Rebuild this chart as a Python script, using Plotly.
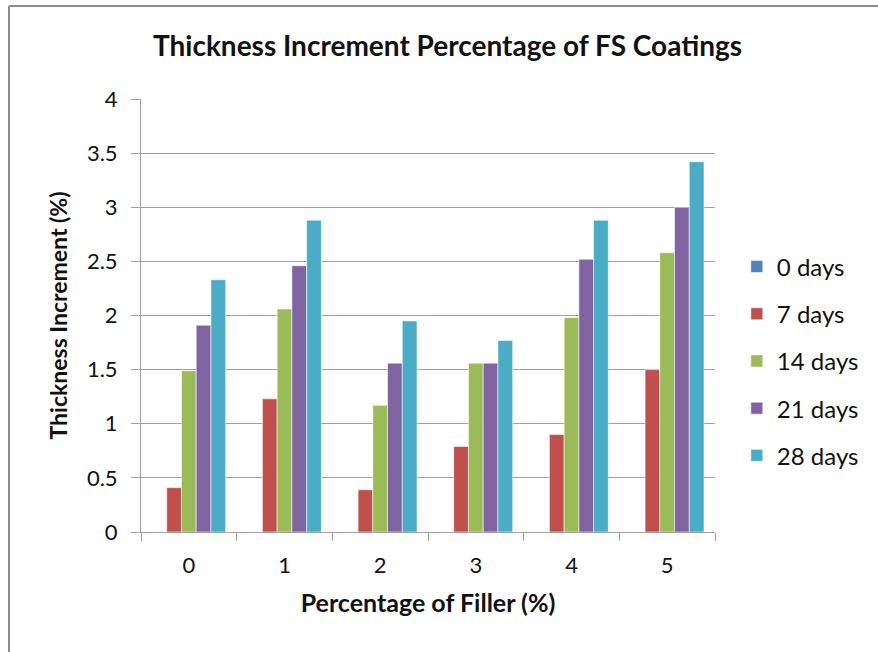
import plotly.graph_objects as go

categories = ["0", "1", "2", "3", "4", "5"]
series_names = ["0 days", "7 days", "14 days", "21 days", "28 days"]
days_0 = [0, 0, 0, 0, 0, 0]
days_7 = [0.41, 1.23, 0.39, 0.79, 0.90, 1.50]
days_14 = [1.49, 2.06, 1.17, 1.56, 1.98, 2.58]
days_21 = [1.91, 2.46, 1.56, 1.56, 2.52, 3.00]
days_28 = [2.33, 2.88, 1.95, 1.77, 2.88, 3.42]
y_ticks = [0, 0.5, 1, 1.5, 2, 2.5, 3, 3.5, 4]
y_tick_labels = ["0", "0.5", "1", "1.5", "2", "2.5", "3", "3.5", "4"]

series_values = [days_0, days_7, days_14, days_21, days_28]
colors = ["#4F81BD", "#C0504D", "#9BBB59", "#8064A2", "#4BACC6"]

FONT = "Lato"
TXT = "#111111"
W, H = 878, 652
ML, MR, MT, MB = 141, 163, 99, 120

fig = go.Figure()
for i, (name, vals) in enumerate(zip(series_names, series_values)):
    fig.add_trace(go.Bar(
        x=categories, y=vals, name=name,
        marker=dict(color=colors[i], line=dict(color="rgba(255,255,255,0.55)", width=1)),
        legendgroup=name,
    ))

pw = W - ML - MR
ph = H - MT - MB
# outer border (left and top lines)
bx0 = (9 - ML) / pw
by_top = (H - MB - 6) / ph
by_bot = (H - MB - H) / ph
bx1 = (W - ML) / pw
fig.add_shape(type="line", xref="paper", yref="paper", x0=bx0, x1=bx0, y0=by_bot, y1=by_top,
              line=dict(color="#8C8C8C", width=2))
fig.add_shape(type="line", xref="paper", yref="paper", x0=bx0, x1=bx1, y0=by_top, y1=by_top,
              line=dict(color="#8C8C8C", width=2))

fig.update_layout(
    width=W, height=H,
    margin=dict(l=ML, r=MR, t=MT, b=MB),
    paper_bgcolor="white", plot_bgcolor="white",
    barmode="group", bargap=0.23, bargroupgap=0,
    font=dict(family=FONT, color=TXT),
    title=dict(text="<b>Thickness Increment Percentage of FS Coatings</b>",
               x=(138 + 757) / 2 / W, xanchor="center", y=1 - 46 / H, yanchor="middle",
               font=dict(size=28, family=FONT, color=TXT)),
    legend=dict(x=1.038, xanchor="left", y=0.395, yanchor="middle",
                font=dict(size=24, family=FONT, color=TXT),
                tracegroupgap=13, itemclick=False, bgcolor="rgba(0,0,0,0)"),
    showlegend=True,
)
fig.update_xaxes(
    type="category", showline=True, linecolor="#A0A0A0", linewidth=1,
    ticks="outside", tickson="boundaries", ticklen=8, tickcolor="#A0A0A0",
    tickfont=dict(size=22, family=FONT, color=TXT), ticklabelstandoff=14,
    showgrid=False,
    title=dict(text="<b>Percentage of Filler (%)</b>", font=dict(size=25, family=FONT, color=TXT), standoff=17),
)
fig.update_yaxes(
    range=[0, 4], tickvals=y_ticks, ticktext=y_tick_labels,
    showline=True, linecolor="#A0A0A0", linewidth=1,
    ticks="outside", ticklen=9, tickcolor="#A0A0A0",
    showgrid=True, gridcolor="#A0A0A0", gridwidth=1, zeroline=False,
    tickfont=dict(size=22, family=FONT, color=TXT), ticklabelstandoff=9,
    title=dict(text="<b>Thickness Increment (%)</b>", font=dict(size=23, family=FONT, color=TXT), standoff=12),
)

fig.write_html("out.html")
